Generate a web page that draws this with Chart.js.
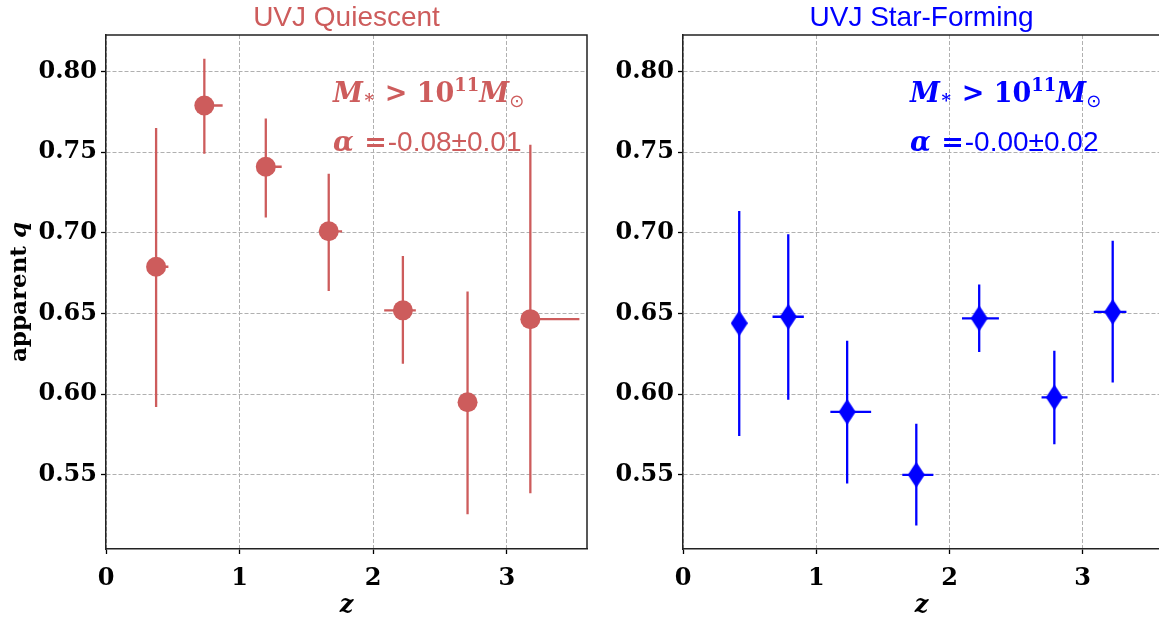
<!DOCTYPE html>
<html>
<head>
<meta charset="utf-8">
<script src="https://cdn.jsdelivr.net/npm/chart.js@4.4.0/dist/chart.umd.min.js"></script>
<style>
  html, body { margin: 0; padding: 0; background: #fff; overflow: hidden; width: 1159px; height: 617px; }
  canvas { position: absolute; top: 0; }
  #qChart { left: 0; }
  #sfChart { left: 600px; }
</style>
</head>
<body>
<canvas id="qChart" width="600" height="617"></canvas>
<canvas id="sfChart" width="565" height="617"></canvas>
<script>
// tick labels
var xTicks = [0, 1, 2, 3];
var yTicks = [0.55, 0.60, 0.65, 0.70, 0.75, 0.80];

// UVJ quiescent: redshift, x error range, apparent q and its error range
var qZ   = [0.375, 0.736, 1.196, 1.667, 2.222, 2.706, 3.176];
var qZLo = [0.33, 0.70, 1.14, 1.61, 2.082, 2.67, 3.12];
var qZHi = [0.467, 0.873, 1.315, 1.767, 2.319, 2.74, 3.543];
var qVal = [0.679, 0.779, 0.741, 0.701, 0.652, 0.595, 0.6465];
var qLo  = [0.592, 0.749, 0.7095, 0.664, 0.6188, 0.5256, 0.5386];
var qHi  = [0.765, 0.808, 0.771, 0.7366, 0.6857, 0.6636, 0.7546];

// UVJ star-forming
var sfZ   = [0.422, 0.790, 1.232, 1.751, 2.223, 2.787, 3.225];
var sfZLo = [0.39, 0.672, 1.106, 1.646, 2.094, 2.691, 3.083];
var sfZHi = [0.45, 0.907, 1.412, 1.879, 2.371, 2.886, 3.328];
var sfVal = [0.644, 0.648, 0.589, 0.550, 0.647, 0.598, 0.651];
var sfLo  = [0.574, 0.5965, 0.5446, 0.5186, 0.6262, 0.569, 0.6072];
var sfHi  = [0.7136, 0.6992, 0.6332, 0.5816, 0.668, 0.627, 0.6952];

var red = '#cd5c5c';
var blue = '#0000ff';
var serif = '"DejaVu Serif"';

// thin diamond marker (matplotlib 'd')
function thinDiamond(color) {
  var c = document.createElement('canvas');
  c.width = 17; c.height = 26;
  var g = c.getContext('2d');
  g.fillStyle = color;
  g.beginPath();
  g.moveTo(8.5, 0); g.lineTo(17, 13); g.lineTo(8.5, 26); g.lineTo(0, 13);
  g.closePath(); g.fill();
  return c;
}

// error bars drawn under the markers
function errorBars(zs, zlo, zhi, vals, lo, hi, color) {
  return {
    id: 'errorBars',
    beforeDatasetsDraw: function (chart) {
      var x = chart.scales.x, y = chart.scales.y, ctx = chart.ctx;
      ctx.save();
      ctx.strokeStyle = color;
      ctx.lineWidth = 2.3;
      for (var i = 0; i < zs.length; i++) {
        var px = x.getPixelForValue(zs[i]);
        var py = y.getPixelForValue(vals[i]);
        ctx.beginPath();
        ctx.moveTo(px, y.getPixelForValue(lo[i]));
        ctx.lineTo(px, y.getPixelForValue(hi[i]));
        ctx.moveTo(x.getPixelForValue(zlo[i]), py);
        ctx.lineTo(x.getPixelForValue(zhi[i]), py);
        ctx.stroke();
      }
      ctx.restore();
    }
  };
}

function drawRun(ctx, x, y, parts) {
  parts.forEach(function (p) {
    ctx.font = p.font;
    ctx.fillText(p.t, x, y + (p.dy || 0));
    x += ctx.measureText(p.t).width + (p.gap || 0);
  });
  return x;
}

function runWidth(ctx, parts) {
  var w = 0;
  parts.forEach(function (p) { ctx.font = p.font; w += ctx.measureText(p.t).width + (p.gap || 0); });
  return w;
}

// frame, panel title and the mass / slope annotation
function panelText(title, color, alphaText, yTitle) {
  return {
    id: 'panelText',
    afterDraw: function (chart) {
      var a = chart.chartArea, ctx = chart.ctx;
      ctx.save();
      ctx.strokeStyle = '#222';
      ctx.lineWidth = 1.5;
      ctx.beginPath();
      ctx.moveTo(a.left, a.top); ctx.lineTo(a.right, a.top); ctx.lineTo(a.right, a.bottom);
      ctx.stroke();

      ctx.fillStyle = color;
      ctx.textBaseline = 'alphabetic';
      ctx.textAlign = 'center';
      ctx.font = '28px "Liberation Sans"';
      ctx.fillText(title, (a.left + a.right) / 2, a.top - 9);

      ctx.textAlign = 'left';
      var x0 = a.left + 227;
      var big = 'bold 27px ' + serif, bigIt = 'italic bold 27px ' + serif, small = 'bold 18px ' + serif;
      drawRun(ctx, x0, a.top + 67, [
        { t: 'M', font: bigIt },
        { t: '\u2217', font: small, dy: 1 },
        { t: ' > 10', font: big },
        { t: '11', font: small, dy: -11 },
        { t: 'M', font: bigIt },
        { t: '\u2299', font: '18px "DejaVu Sans"', dy: 5 }
      ]);
      drawRun(ctx, x0, a.top + 116, [
        { t: '\u03b1', font: bigIt, gap: 1 },
        { t: ' =', font: big, gap: 1 },
        { t: alphaText, font: '28px "Liberation Sans"' }
      ]);

      if (yTitle) {
        var parts = [
          { t: 'apparent ', font: 'bold 23px ' + serif },
          { t: 'q', font: 'italic bold 23px ' + serif }
        ];
        ctx.fillStyle = '#000';
        ctx.translate(20, (a.top + a.bottom) / 2);
        ctx.rotate(-Math.PI / 2);
        ctx.textBaseline = 'middle';
        drawRun(ctx, -runWidth(ctx, parts) / 2, 0, parts);
      }
      ctx.restore();
    }
  };
}

function scales(xMax, yWidth) {
  var tickFont = { family: 'DejaVu Serif', weight: 'bold', size: 24 };
  return {
    x: {
      type: 'linear', min: 0, max: xMax,
      afterBuildTicks: function (s) { s.ticks = xTicks.map(function (v) { return { value: v }; }); },
      afterFit: function (s) { s.height = 68; s.paddingLeft = 0; s.paddingRight = 0; },
      grid: { color: '#b0b0b0', lineWidth: 1, tickColor: '#000', tickLength: 5, tickWidth: 1.3 },
      border: { display: true, color: '#222', width: 1.5, dash: [4, 2] },
      ticks: { color: '#000', font: tickFont, padding: 10, maxRotation: 0,
        callback: function (v) { return String(v); } },
      title: { display: true, text: 'z', color: '#000',
        font: { family: 'DejaVu Serif', style: 'italic', weight: 'bold', size: 24, lineHeight: 0.9 },
        padding: { top: 0, bottom: 0 } }
    },
    y: {
      type: 'linear', min: 0.504, max: 0.8227,
      afterBuildTicks: function (s) { s.ticks = yTicks.map(function (v) { return { value: v }; }); },
      afterFit: function (s) { s.width = yWidth; s.paddingTop = 0; s.paddingBottom = 0; },
      grid: { color: '#b0b0b0', lineWidth: 1, tickColor: '#000', tickLength: 5, tickWidth: 1.3 },
      border: { display: true, color: '#222', width: 1.5, dash: [4, 2] },
      ticks: { color: '#000', font: tickFont, padding: 4,
        callback: function (v) { return v.toFixed(2); } }
    }
  };
}

function points(zs, vals) {
  return zs.map(function (z, i) { return { x: z, y: vals[i] }; });
}

new Chart(document.getElementById('qChart'), {
  type: 'scatter',
  data: {
    datasets: [{
      label: 'UVJ Quiescent',
      data: points(qZ, qVal),
      pointStyle: 'circle',
      pointRadius: 10,
      backgroundColor: red,
      borderWidth: 0
    }]
  },
  options: {
    responsive: false,
    animation: false,
    events: [],
    layout: { autoPadding: false, padding: { top: 35, right: 13, bottom: 0, left: 0 } },
    plugins: { legend: { display: false }, tooltip: { enabled: false } },
    scales: scales(3.6, 106)
  },
  plugins: [errorBars(qZ, qZLo, qZHi, qVal, qLo, qHi, red),
            panelText('UVJ Quiescent', red, '-0.08\u00b10.01', true)]
});

new Chart(document.getElementById('sfChart'), {
  type: 'scatter',
  data: {
    datasets: [{
      label: 'UVJ Star-Forming',
      data: points(sfZ, sfVal),
      pointStyle: thinDiamond(blue),
      pointRadius: 9,
      backgroundColor: blue,
      borderWidth: 0
    }]
  },
  options: {
    responsive: false,
    animation: false,
    events: [],
    layout: { autoPadding: false, padding: { top: 35, right: 5, bottom: 0, left: 0 } },
    plugins: { legend: { display: false }, tooltip: { enabled: false } },
    scales: scales(3.58, 83)
  },
  plugins: [errorBars(sfZ, sfZLo, sfZHi, sfVal, sfLo, sfHi, blue),
            panelText('UVJ Star-Forming', blue, '-0.00\u00b10.02', false)]
});
</script>
</body>
</html>
